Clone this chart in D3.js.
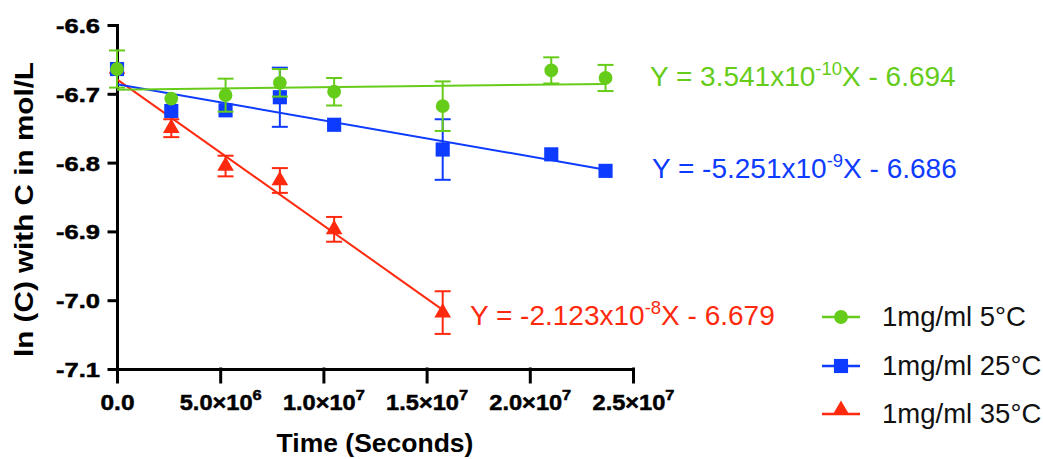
<!DOCTYPE html>
<html>
<head>
<meta charset="utf-8">
<script src="https://cdn.jsdelivr.net/npm/d3@7"></script>
<style>
  body { margin: 0; background: #fff; }
  svg { font-family: "Liberation Sans", Arial, sans-serif; }
</style>
</head>
<body>
<svg id="viz"></svg>
<script>
// the data
var timeSec = [0, 2.63e6, 5.26e6, 7.89e6, 1.052e7, 1.578e7, 2.104e7, 2.367e7];
var green5 = [-6.664, -6.707, -6.702, -6.684, -6.697, -6.718, -6.666, -6.677];
var green5Err = [0.027, 0, 0.024, 0.020, 0.020, 0.036, 0.019, 0.019];
var blue25 = [-6.664, -6.725, -6.724, -6.705, -6.745, -6.781, -6.788, -6.812];
var blue25Err = [0, 0, 0, 0.043, 0, 0.044, 0, 0];
var red35 = [-6.664, -6.750, -6.805, -6.826, -6.897, -7.018];
var red35Err = [0, 0.013, 0.015, 0.018, 0.018, 0.031];

var seriesNames = ["1mg/ml 5°C", "1mg/ml 25°C", "1mg/ml 35°C"];
var fitSlope = [3.541e-10, -5.251e-9, -2.123e-8];
var fitIntercept = [-6.694, -6.686, -6.679];
var eqMantissa = ["3.541", "-5.251", "-2.123"];
var eqExponent = ["-10", "-9", "-8"];
var eqConst = ["6.694", "6.686", "6.679"];

var yTicks = [-6.6, -6.7, -6.8, -6.9, -7.0, -7.1];
var xTicks = [0, 5e6, 1e7, 1.5e7, 2e7, 2.5e7];
var xTickMant = ["0.0", "5.0×10", "1.0×10", "1.5×10", "2.0×10", "2.5×10"];
var xTickExp = ["", "6", "7", "7", "7", "7"];

// set up the svg
var w = 1043, h = 459;
var svg = d3.select("#viz").attr("width", w).attr("height", h);
var FONT = '"Liberation Sans", Arial, sans-serif';

var colors = ["#66CC1A", "#0D3BFF", "#FF2A0D"];
var x = d3.scaleLinear().domain([0, 2.5e7]).range([117, 633]);
var y = d3.scaleLinear().domain([-6.6, -7.1]).range([25, 369]);

// stretch a label horizontally so it spans the width seen in the figure
function fitWidth(sel, target) {
  sel.each(function() {
    var len = this.getComputedTextLength();
    var k = target / len;
    var el = d3.select(this);
    el.attr("x", +el.attr("x") / k).attr("transform", "scale(" + k + ",1)");
  });
}

// axes
var yAxis = svg.append("g").attr("transform", "translate(117,0)")
  .call(d3.axisLeft(y).tickValues(yTicks).tickSize(8).tickSizeOuter(0)
    .tickFormat(function(d) { return d.toFixed(1); }))
  .attr("font-family", FONT);
yAxis.selectAll("text")
  .attr("x", -17).attr("dy", "0.36em")
  .style("font-size", "21px").style("font-weight", "bold")
  .attr("fill", "#000").attr("stroke", "#000").attr("stroke-width", 0.5);
fitWidth(yAxis.selectAll("text"), 44);

var xAxis = svg.append("g").attr("transform", "translate(0,369)")
  .call(d3.axisBottom(x).tickValues(xTicks).tickSize(13).tickSizeOuter(0).tickFormat(""))
  .attr("font-family", FONT);
xAxis.selectAll(".tick text").each(function(d, i) {
  var t = d3.select(this).attr("x", 0).attr("y", 41).attr("dy", 0)
    .style("font-size", "21.5px").style("font-weight", "bold")
    .attr("fill", "#000").attr("stroke", "#000").attr("stroke-width", 0.5);
  t.append("tspan").text(xTickMant[i]);
  if (xTickExp[i]) t.append("tspan").attr("dy", -10).style("font-size", "15px").text(xTickExp[i]);
  fitWidth(t, i === 0 ? 34 : 82);
});

svg.selectAll(".domain, .tick line")
  .attr("stroke", "#000").attr("stroke-width", 3).attr("stroke-linecap", "square");

// axis titles
svg.append("text")
  .attr("transform", "translate(33,209.5) rotate(-90)")
  .attr("text-anchor", "middle")
  .attr("textLength", 295).attr("lengthAdjust", "spacingAndGlyphs")
  .style("font-size", "25px").style("font-weight", "bold")
  .text("ln (C) with C in mol/L");

svg.append("text")
  .attr("x", 375).attr("y", 452).attr("text-anchor", "middle")
  .style("font-size", "26.5px").style("font-weight", "bold")
  .text("Time (Seconds)");

// series (drawn red, blue, green so green sits on top)
var series = [
  {vals: green5, err: green5Err, shape: d3.symbolCircle, size: 150},
  {vals: blue25, err: blue25Err, shape: d3.symbolSquare, size: 200},
  {vals: red35, err: red35Err, shape: d3.symbolTriangle, size: 120}
];

[2, 1, 0].forEach(function(si) {
  var s = series[si], c = colors[si];
  var g = svg.append("g");
  var pts = s.vals.map(function(v, i) { return {t: timeSec[i], v: v, e: s.err[i]}; });
  var tEnd = pts[pts.length - 1].t;

  // fit line
  g.append("line")
    .attr("x1", x(0)).attr("y1", y(fitIntercept[si]))
    .attr("x2", x(tEnd)).attr("y2", y(fitSlope[si] * tEnd + fitIntercept[si]))
    .attr("stroke", c).attr("stroke-width", 2);

  // error bars
  var eb = g.selectAll(".eb").data(pts.filter(function(p) { return p.e > 0; })).enter().append("g");
  eb.append("line")
    .attr("x1", function(p) { return x(p.t); }).attr("x2", function(p) { return x(p.t); })
    .attr("y1", function(p) { return y(p.v + p.e); }).attr("y2", function(p) { return y(p.v - p.e); })
    .attr("stroke", c).attr("stroke-width", 2);
  [1, -1].forEach(function(sign) {
    eb.append("line")
      .attr("x1", function(p) { return x(p.t) - 8; }).attr("x2", function(p) { return x(p.t) + 8; })
      .attr("y1", function(p) { return y(p.v + sign * p.e); }).attr("y2", function(p) { return y(p.v + sign * p.e); })
      .attr("stroke", c).attr("stroke-width", 2);
  });

  // markers
  g.selectAll(".pt").data(pts).enter().append("path")
    .attr("d", d3.symbol().type(s.shape).size(s.size))
    .attr("transform", function(p) { return "translate(" + x(p.t) + "," + y(p.v) + ")"; })
    .attr("fill", c);
});

// fit equations
var eqPos = [[650, 86], [652, 178], [470, 325]];
[0, 1, 2].forEach(function(si) {
  var t = svg.append("text")
    .attr("x", eqPos[si][0]).attr("y", eqPos[si][1])
    .attr("fill", colors[si]).style("font-size", "28px");
  t.append("tspan").text("Y = " + eqMantissa[si] + "x10");
  t.append("tspan").attr("dy", -11).style("font-size", "18.5px").text(eqExponent[si]);
  t.append("tspan").attr("dy", 11).text("X - " + eqConst[si]);
});

// legend
var legY = [317, 366, 414];
[0, 1, 2].forEach(function(si) {
  var g = svg.append("g").attr("transform", "translate(0," + legY[si] + ")");
  g.append("line").attr("x1", 822).attr("x2", 860).attr("y1", 0).attr("y2", 0)
    .attr("stroke", colors[si]).attr("stroke-width", 2.5);
  g.append("path")
    .attr("d", d3.symbol().type(series[si].shape).size(series[si].size))
    .attr("transform", "translate(841," + (si === 2 ? -4 : 0) + ")")
    .attr("fill", colors[si]);
  g.append("text").attr("x", 882).attr("y", 9)
    .attr("fill", "#111").style("font-size", "27.5px").text(seriesNames[si]);
});
</script>
</body>
</html>
